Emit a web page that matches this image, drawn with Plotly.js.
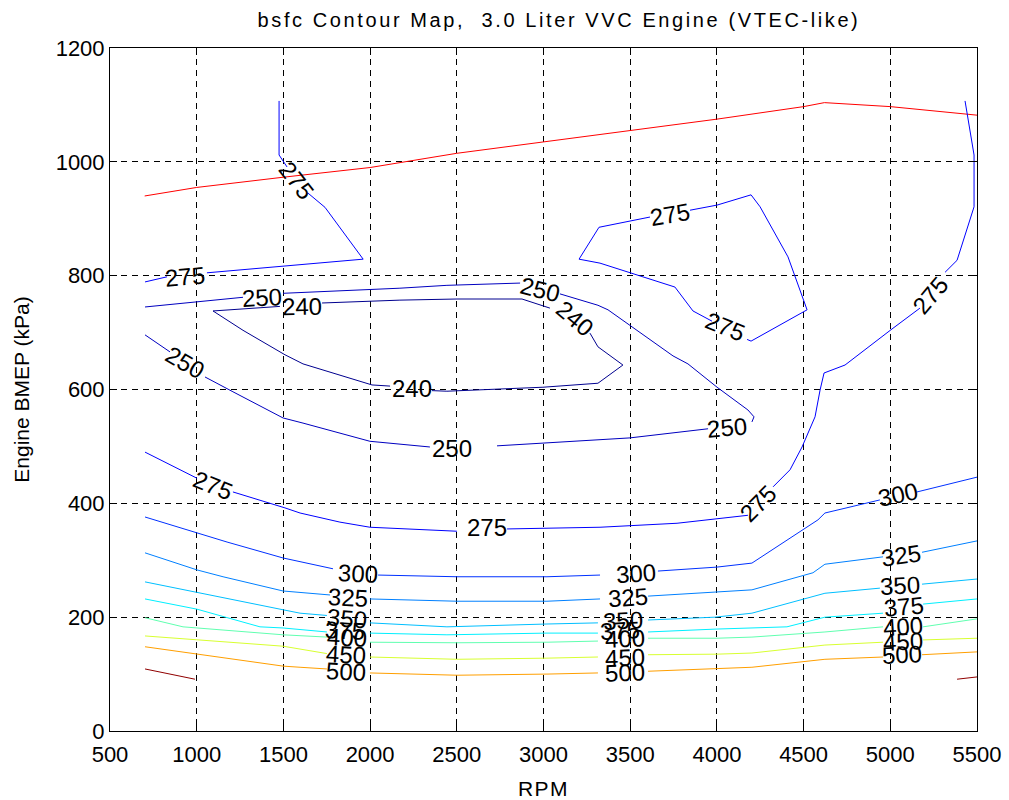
<!DOCTYPE html>
<html>
<head>
<meta charset="utf-8">
<script src="https://cdn.plot.ly/plotly-3.0.1.min.js"></script>
<style>
html,body{margin:0;padding:0;background:#fff;}
#chart{width:1009px;height:800px;}
#chart .gtitle{letter-spacing:2.6px;}
#chart .xtitle{letter-spacing:1.5px;}
</style>
</head>
<body>
<div id="chart"></div>
<script>
// ---- contour lines (RPM, BMEP kPa); null = gap under a label ----
const rpmTop = [700,1000,1500,2000,2500,3000,3500,4000,4500,4620,5000,5500];
const bmepTop = [940,955,973,990,1015,1035,1054,1075,1097,1104,1097,1082];

const rpm240 = [1723,2172,2501,2876,3037,null,3268,3314,3458,3314,2997,2443,2357,null,2115,2011,1613,1509,1267,1094,1480];
const bmep240 = [752,757,759,759,743,null,699,675,643,611,604,597,598,null,606,608,645,661,704,738,746];

const rpm250 = [702,1267,null,1498,2172,2443,2865,null,3095,3314,3372,3510,3747,3833,4001,4179,4214,4202,null,3949,3499,2732,null,2345,1999,1613,1498,1209,1048,null,846,702];
const bmep250 = [745,762,null,769,778,783,787,null,768,748,740,710,659,645,604,564,552,543,null,531,515,501,null,499,509,541,550,596,622,null,666,696];

const rpm275a = [1475,1475,1521,null,1642,1740,1960,1059,null,829,702];
const bmep275a = [1107,1012,991,null,945,920,829,805,null,798,789];

const rpm275b = [3845,4001,4197,4249,4410,4520,4197,4174,null,3972,3862,3758,3326,3205,3320,3614];
const bmep275b = [915,924,942,921,833,740,685,688,null,720,738,780,822,829,885,903];

const rpm275c = [5431,5483,5483,5385,5316,null,5171,5004,4739,4618,4595,4566,4491,4422,4324,null,4179,3770,3326,3020,2790,null,2501,1999,1826,1596,1509,1209,null,1002,904,702];
const bmep275c = [1107,1012,921,827,806,null,743,705,643,629,599,552,499,459,429,null,379,365,358,357,355,null,351,358,367,383,392,420,null,444,459,490];

const rpm300 = [702,1002,1175,1498,1786,null,2046,2501,3020,3326,null,3660,4001,4202,4583,4623,4940,null,5154,5500];
const bmep300 = [376,348,332,304,285,null,274,271,271,274,null,281,288,295,371,383,406,null,420,446];

const rpm325 = [702,1002,1152,1498,1769,null,1999,2501,3020,3326,null,3603,4001,4202,4554,4623,4958,null,5183,5500];
const bmep325 = [313,283,271,246,239,null,232,228,228,232,null,237,244,248,278,293,306,null,314,334];

const rpm350 = [702,1002,1498,1596,1751,null,1999,2443,3020,3314,null,3603,3989,4202,4623,4940,null,5183,5500];
const bmep350 = [262,244,213,207,203,null,190,183,188,190,null,195,200,207,242,251,null,258,267];

const rpm375 = [702,1002,1365,1498,1751,null,1999,2443,3020,3314,null,3603,3989,4404,4497,4623,4958,null,5189,5500];
const bmep375 = [232,214,183,181,174,null,172,169,172,172,null,174,179,183,190,200,207,null,223,232];

const rpm400 = [702,921,1498,1751,null,1999,2501,3020,3314,null,3603,4001,4202,4623,4958,null,5189,5500];
const bmep400 = [199,183,169,165,null,156,155,156,158,null,163,163,165,174,183,null,183,197];

const rpm450 = [702,1002,1498,1751,null,1999,2501,3020,3314,null,3603,4001,4202,4623,4958,null,5189,5500];
const bmep450 = [167,160,149,136,null,130,126,128,130,null,134,135,137,151,156,null,160,163];

const rpm500 = [702,1002,1498,1596,1751,null,1999,2501,3020,3314,null,3603,4001,4202,4623,4958,null,5183,5500];
const bmep500 = [148,135,114,112,109,null,102,98,100,102,null,105,109,112,126,130,null,134,139];

const rpm550 = [702,990,null,5385,5500];
const bmep550 = [109,91,null,91,95];

// ---- contour labels: text, RPM, BMEP, angle ----
const labelText = ["275","275","250","240","250","240","240","250","250","250","275","275","275","275","275","275",
  "300","300","300","325","325","325","350","350","350","375","375","375","400","400","400","450","450","450","500","500","500"];
const labelRpm = [1578,933,1376,1607,2980,3182,2242,933,2470,4058,3730,4047,5229,4237,1094,2674,
  1930,3533,5044,1873,3487,5062,1867,3458,5056,1855,3441,5079,1867,3470,5073,1861,3470,5073,1861,3470,5067];
const labelBmep = [968,798,761,745,775,725,601,647,497,534,907,710,766,400,432,357,
  277,277,415,235,235,309,197,195,256,177,176,218,165,163,184,134,130,158,104,102,134];
const labelAngle = [52,-5,-3,-1,14,40,0,30,0,-5,-10,22,-50,-45,22,0,
  3,-4,-12,3,-4,-8,5,-3,-3,3,-3,-5,3,-2,-4,3,-2,-3,3,-2,-3];

const xTicks = [500,1000,1500,2000,2500,3000,3500,4000,4500,5000,5500];
const yTicks = [0,200,400,600,800,1000,1200];

function line(x, y, color) {
  return {type:'scatter', mode:'lines', x:x, y:y, connectgaps:false,
          line:{color:color, width:1}, hoverinfo:'skip', showlegend:false};
}

const traces = [
  line(rpmTop, bmepTop, '#ff0000'),
  line(rpm240, bmep240, '#00008f'),
  line(rpm250, bmep250, '#0000c0'),
  line(rpm275a, bmep275a, '#0000ff'),
  line(rpm275b, bmep275b, '#0000ff'),
  line(rpm275c, bmep275c, '#0000ff'),
  line(rpm300, bmep300, '#0030ff'),
  line(rpm325, bmep325, '#0080ff'),
  line(rpm350, bmep350, '#00bfff'),
  line(rpm375, bmep375, '#00f0ff'),
  line(rpm400, bmep400, '#60ffb0'),
  line(rpm450, bmep450, '#d8ff30'),
  line(rpm500, bmep500, '#ff9f00'),
  line(rpm550, bmep550, '#900000')
];

const FONT = 'Liberation Sans, Arial, Helvetica, sans-serif';

const annotations = labelText.map((t, i) => ({
  text: t, x: labelRpm[i], y: labelBmep[i], xref:'x', yref:'y',
  showarrow:false, textangle: labelAngle[i],
  font:{family:FONT, size:24, color:'#000'}
}));

const axisCommon = {
  showline:true, linecolor:'#000', linewidth:1, mirror:'ticks',
  ticks:'inside', ticklen:7, tickcolor:'#000', tickwidth:1,
  showgrid:true, gridcolor:'#000', gridwidth:1, griddash:'6px,5px',
  zeroline:false, tickfont:{family:FONT, size:22, color:'#000'}
};

const layout = {
  width:1009, height:800,
  paper_bgcolor:'#fff', plot_bgcolor:'#fff',
  margin:{l:110, r:32, t:48, b:69},
  title:{text:'bsfc Contour Map,  3.0 Liter VVC Engine (VTEC-like)',
         font:{family:FONT, size:20, color:'#000'},
         xref:'container', x:559/1009, xanchor:'center', yref:'container', y:0.975, yanchor:'middle'},
  xaxis:Object.assign({}, axisCommon, {range:[500,5500], tickvals:xTicks, ticktext:xTicks.map(String),
         ticklabelstandoff:4,
         title:{text:'RPM', font:{family:FONT, size:21, color:'#000'}, standoff:14}}),
  yaxis:Object.assign({}, axisCommon, {range:[0,1200], tickvals:yTicks, ticktext:yTicks.map(String),
         title:{text:'Engine BMEP (kPa)', font:{family:FONT, size:21, color:'#000'}, standoff:20}}),
  annotations: annotations,
  hovermode:false
};

Plotly.newPlot('chart', traces, layout, {displayModeBar:false, staticPlot:true});
</script>
</body>
</html>
